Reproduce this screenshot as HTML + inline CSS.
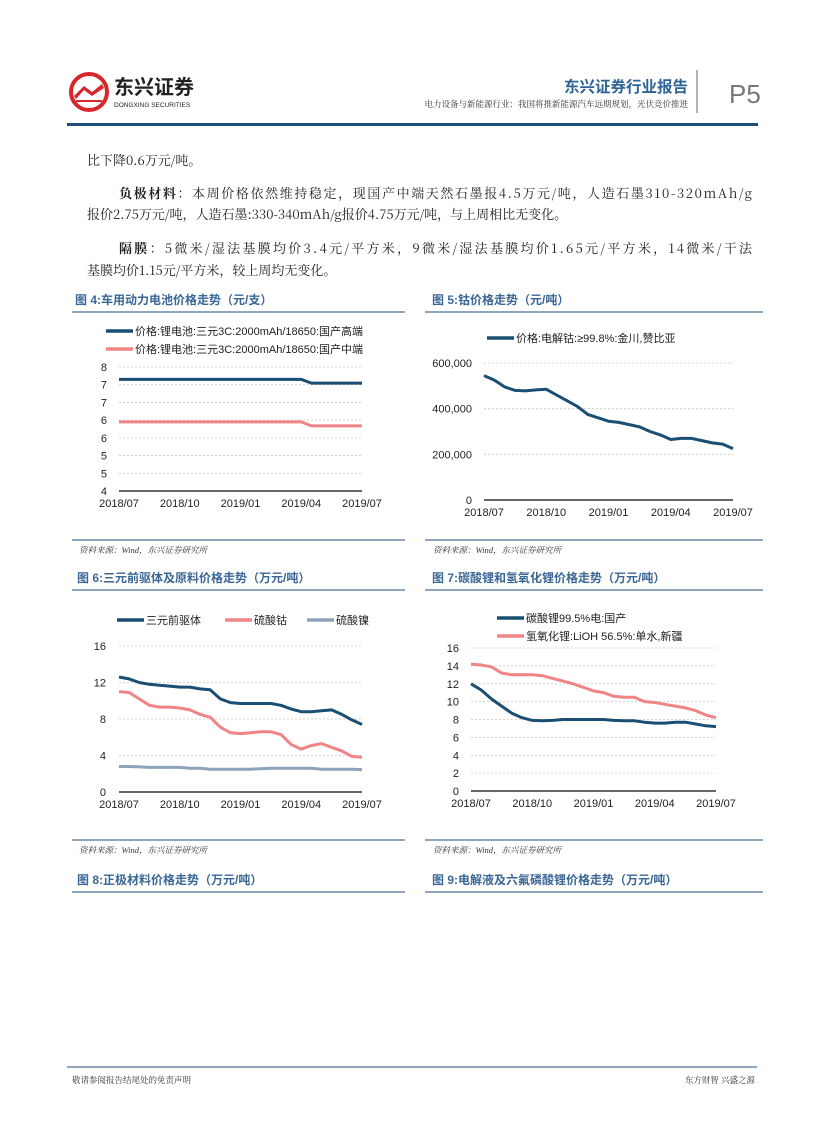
<!DOCTYPE html>
<html><head><meta charset="utf-8">
<style>
html,body{margin:0;padding:0;background:#fff;}
svg{display:block;font-family:"Liberation Sans","Noto Sans CJK SC",sans-serif;}
.body{font-family:"Noto Serif CJK SC","Liberation Serif",serif;font-size:13px;fill:#222;}
.ttl{font-size:12px;font-weight:bold;fill:#3a6796;}
.ax{font-size:11px;fill:#222;}
.src{font-family:"Liberation Serif","Noto Serif CJK SC",serif;font-size:8.5px;font-style:italic;fill:#333;}
.grid{stroke:#c8c8c8;stroke-width:0.8;stroke-dasharray:2,2;}
</style></head>
<body>
<svg id="page" width="827" height="1122" viewBox="0 0 827 1122">
<g>
  <circle cx="89" cy="92" r="18" fill="#fff" stroke="#d7262c" stroke-width="4"/>
  <path d="M74 96 L84 86 L92 92 L102 84 L104 88 L92 96 L84 90 L76 99 Z" fill="#d7262c"/>
  <path d="M76 101 L102 101" stroke="#d7262c" stroke-width="2"/>
  <text x="114" y="94" font-size="20" font-weight="bold" fill="#222">东兴证券</text>
  <text x="114" y="107" font-size="6.5" fill="#222">DONGXING SECURITIES</text>
  <text x="688" y="92" font-size="15.5" font-weight="bold" fill="#2e6496" text-anchor="end">东兴证券行业报告</text>
  <text x="688" y="107" font-size="8.5" fill="#333" text-anchor="end" font-family="Noto Serif CJK SC,serif">电力设备与新能源行业：我国将推新能源汽车远期规划，光伏竞价推进</text>
  <line x1="697" y1="70" x2="697" y2="113" stroke="#999" stroke-width="1.5"/>
  <text x="729" y="103" font-size="26" fill="#777">P5</text>
  <rect x="67" y="123" width="691" height="3" fill="#1f4e79"/>
</g>
<g>
  <text class="body" x="87" y="165">比下降0.6万元/吨。</text>
  <text class="body" x="119" y="198" textLength="633" lengthAdjust="spacing"><tspan font-weight="bold">负极材料</tspan>：本周价格依然维持稳定，现国产中端天然石墨报4.5万元/吨，人造石墨310-320mAh/g</text>
  <text class="body" x="87" y="219">报价2.75万元/吨，人造石墨:330-340mAh/g报价4.75万元/吨，与上周相比无变化。</text>
  <text class="body" x="119" y="253" textLength="633" lengthAdjust="spacing"><tspan font-weight="bold">隔膜</tspan>：5微米/湿法基膜均价3.4元/平方米，9微米/湿法基膜均价1.65元/平方米，14微米/干法</text>
  <text class="body" x="87" y="275">基膜均价1.15元/平方米，较上周均无变化。</text>
</g>
<text class="ttl" x="75" y="304">图 4:车用动力电池价格走势（元/支）</text>
<line x1="72" y1="312" x2="405" y2="312" stroke="#1f4e79" stroke-width="1"/>
<text class="ttl" x="432" y="304">图 5:钴价格走势（元/吨）</text>
<line x1="425" y1="312" x2="763" y2="312" stroke="#1f4e79" stroke-width="1"/>
<line x1="72" y1="540" x2="405" y2="540" stroke="#1f4e79" stroke-width="1"/>
<line x1="425" y1="540" x2="763" y2="540" stroke="#1f4e79" stroke-width="1"/>
<text class="src" x="79" y="553">资料来源：Wind，东兴证券研究所</text>
<text class="src" x="433" y="553">资料来源：Wind，东兴证券研究所</text>
<text class="ttl" x="77" y="582">图 6:三元前驱体及原料价格走势（万元/吨）</text>
<line x1="72" y1="590" x2="405" y2="590" stroke="#1f4e79" stroke-width="1"/>
<text class="ttl" x="432" y="582">图 7:碳酸锂和氢氧化锂价格走势（万元/吨）</text>
<line x1="425" y1="590" x2="763" y2="590" stroke="#1f4e79" stroke-width="1"/>
<line x1="72" y1="840" x2="405" y2="840" stroke="#1f4e79" stroke-width="1"/>
<line x1="425" y1="840" x2="763" y2="840" stroke="#1f4e79" stroke-width="1"/>
<text class="src" x="79" y="853">资料来源：Wind，东兴证券研究所</text>
<text class="src" x="433" y="853">资料来源：Wind，东兴证券研究所</text>
<text class="ttl" x="77" y="884">图 8:正极材料价格走势（万元/吨）</text>
<line x1="72" y1="892" x2="405" y2="892" stroke="#1f4e79" stroke-width="1"/>
<text class="ttl" x="432" y="884">图 9:电解液及六氟磷酸锂价格走势（万元/吨）</text>
<line x1="425" y1="892" x2="763" y2="892" stroke="#1f4e79" stroke-width="1"/>
<line x1="67" y1="1067" x2="757" y2="1067" stroke="#1f4e79" stroke-width="1"/>
<text x="72" y="1083" font-size="8.5" fill="#333" font-family="Noto Serif CJK SC,serif">敬请参阅报告结尾处的免责声明</text>
<text x="755" y="1083" font-size="8.5" fill="#333" text-anchor="end" font-family="Noto Serif CJK SC,serif">东方财智 兴盛之源</text>
<g id="charts"></g>
</svg>
<script>
var xTickLabels = ["2018/07","2018/10","2019/01","2019/04","2019/07"];
var f4Labels = ["4","5","5","6","6","7","7","8"];
var f4High = [7.6,7.6,7.6,7.6,7.6,7.6,7.6,7.6,7.6,7.6,7.6,7.6,7.6,7.6,7.6,7.6,7.6,7.6,7.6,7.48,7.48,7.48,7.48,7.48,7.48];
var f4Mid  = [6.23,6.23,6.23,6.23,6.23,6.23,6.23,6.23,6.23,6.23,6.23,6.23,6.23,6.23,6.23,6.23,6.23,6.23,6.23,6.1,6.1,6.1,6.1,6.1,6.1];
var f5Labels = ["0","200,000","400,000","600,000"];
var f5Cobalt = [545000,525000,495000,480000,478000,482000,485000,460000,435000,410000,375000,360000,345000,340000,330000,320000,300000,285000,265000,270000,270000,260000,250000,245000,225000];
var f6Labels = ["0","4","8","12","16"];
var f6Precursor = [12.6,12.4,12,11.8,11.7,11.6,11.5,11.5,11.3,11.2,10.2,9.8,9.7,9.7,9.7,9.7,9.5,9.1,8.8,8.8,8.9,9,8.5,7.9,7.4];
var f6CoSulfate = [11,10.9,10.2,9.5,9.3,9.3,9.2,9,8.5,8.2,7.1,6.5,6.4,6.5,6.6,6.6,6.3,5.2,4.7,5.1,5.3,4.9,4.5,3.9,3.8];
var f6NiSulfate = [2.8,2.8,2.75,2.7,2.7,2.7,2.7,2.6,2.6,2.5,2.5,2.5,2.5,2.5,2.55,2.6,2.6,2.6,2.6,2.6,2.5,2.5,2.5,2.5,2.45];
var f7Labels = ["0","2","4","6","8","10","12","14","16"];
var f7LiOH = [14.2,14.1,13.9,13.2,13,13,13,12.9,12.6,12.3,12,11.6,11.2,11,10.6,10.5,10.5,10,9.9,9.7,9.5,9.3,9,8.5,8.2];
var f7Li2CO3 = [12,11.3,10.3,9.5,8.7,8.2,7.9,7.85,7.9,8,8,8,8,8,7.9,7.85,7.85,7.7,7.6,7.6,7.7,7.7,7.5,7.3,7.2];

var NS="http://www.w3.org/2000/svg";
var root=document.getElementById("charts");
function el(tag,attrs,parent){var e=document.createElementNS(NS,tag);for(var k in attrs)e.setAttribute(k,attrs[k]);(parent||root).appendChild(e);return e;}

function chart(cfg){
  var g=el("g",{});
  
  
  var n=cfg.yLabels.length;
  function ys(v){return cfg.y1-(v-cfg.ymin)/(cfg.ymax-cfg.ymin)*(cfg.y1-cfg.y0);}
  function xs(i,len){return cfg.x0+i/(len-1)*(cfg.x1-cfg.x0);}
  for(var i=0;i<n;i++){
    var v=cfg.ymin+i*(cfg.ymax-cfg.ymin)/(n-1);
    var y=ys(v);
    if(i>0){var gl=el("line",{x1:cfg.x0,x2:cfg.x1,y1:y,y2:y,"class":"grid"},g);
      
      }
    var t=el("text",{x:cfg.lx,y:y+4,"class":"ax","text-anchor":"end"},g);
    t.textContent=cfg.yLabels[i];
    
    
  }
  var ax=el("line",{x1:cfg.x0,x2:cfg.x1,y1:cfg.y1,y2:cfg.y1,stroke:"#333","stroke-width":1.5},g);
  
  
  for(var j=0;j<xTickLabels.length;j++){
    var xt=el("text",{x:cfg.x0+j/(xTickLabels.length-1)*(cfg.x1-cfg.x0),y:cfg.y1+16,"class":"ax","text-anchor":"middle"},g);
    xt.textContent=xTickLabels[j];
    
    
  }
  cfg.series.forEach(function(s){
    var d="";
    for(var k=0;k<s.data.length;k++){d+=(k?"L":"M")+xs(k,s.data.length).toFixed(1)+" "+ys(s.data[k]).toFixed(1);}
    var p=el("path",{d:d,fill:"none",stroke:s.color,"stroke-width":3,"stroke-linejoin":"round"},g);
    
    
    var ll=el("line",{x1:s.lx,x2:s.lx+27,y1:s.ly,y2:s.ly,stroke:s.color,"stroke-width":3.5},g);
    
    
    var lt=el("text",{x:s.lx+29,y:s.ly+4,"class":"ax"},g);
    lt.textContent=s.label;
    
    
  });
}
var DB="#1a4e72",PK="#f08486",GR="#8ea2b9";
chart({name:"fig4-chart",x0:119,x1:362,y0:367,y1:491,ymin:4,ymax:8,lx:107,yLabels:f4Labels,series:[
 {name:"series-high-end",data:f4High,color:DB,lx:106,ly:331,label:"价格:锂电池:三元3C:2000mAh/18650:国产高端"},
 {name:"series-mid-end",data:f4Mid,color:PK,lx:106,ly:349,label:"价格:锂电池:三元3C:2000mAh/18650:国产中端"}]});
chart({name:"fig5-chart",x0:484,x1:733,y0:363,y1:500,ymin:0,ymax:600000,lx:472,yLabels:f5Labels,series:[
 {name:"series-cobalt",data:f5Cobalt,color:DB,lx:487,ly:338,label:"价格:电解钴:≥99.8%:金川,赞比亚"}]});
chart({name:"fig6-chart",x0:119,x1:362,y0:646,y1:792,ymin:0,ymax:16,lx:106,yLabels:f6Labels,series:[
 {name:"series-precursor",data:f6Precursor,color:DB,lx:117,ly:620,label:"三元前驱体"},
 {name:"series-cobalt-sulfate",data:f6CoSulfate,color:PK,lx:225,ly:620,label:"硫酸钴"},
 {name:"series-nickel-sulfate",data:f6NiSulfate,color:GR,lx:307,ly:620,label:"硫酸镍"}]});
chart({name:"fig7-chart",x0:471,x1:716,y0:648,y1:791,ymin:0,ymax:16,lx:459,yLabels:f7Labels,series:[
 {name:"series-lithium-carbonate",data:f7Li2CO3,color:DB,lx:497,ly:618,label:"碳酸锂99.5%电:国产"},
 {name:"series-lithium-hydroxide",data:f7LiOH,color:PK,lx:497,ly:636,label:"氢氧化锂:LiOH 56.5%:单水,新疆"}]});
</script>
</body></html>
